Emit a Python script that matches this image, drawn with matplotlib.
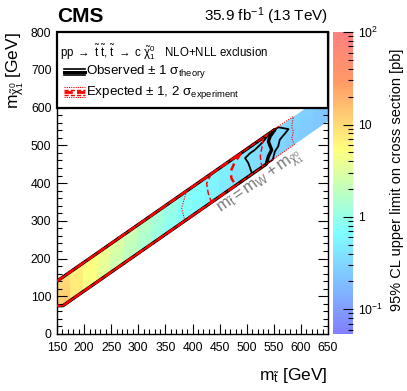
import numpy as np
import matplotlib
matplotlib.use('Agg')
import matplotlib.pyplot as plt
from matplotlib.colors import LinearSegmentedColormap, LogNorm
from matplotlib.patches import Polygon, Rectangle
from matplotlib.lines import Line2D
from matplotlib.ticker import MultipleLocator, FixedLocator, FixedFormatter

plt.rcParams['font.family'] = ['Liberation Sans', 'DejaVu Sans']
plt.rcParams['mathtext.fontset'] = 'custom'
plt.rcParams['mathtext.rm'] = 'Liberation Sans'
plt.rcParams['mathtext.it'] = 'Liberation Sans'
plt.rcParams['mathtext.bf'] = 'Liberation Sans:bold'

# grid of the limit map: stop mass columns (left edges) and dm rows
mstop_edges = [150, 175, 200, 225, 250, 275, 300, 325, 350, 375, 400,
               425, 450, 475, 500, 525, 550, 575, 600, 625, 650]
dm_edges = [10, 19.5, 29, 38.5, 48, 57.5, 67, 76.5, 86]

# 95% CL upper limit [pb], rows = dm (small -> large), cols = mstop
xsec_limit = [
    [9.0, 6.8, 5.2, 4.0, 3.1, 2.4, 1.80, 1.40, 1.10, 0.90, 0.74, 0.62, 0.53, 0.46, 0.41, 0.37, 0.33, 0.30, 0.28, 0.26],
    [9.5, 7.0, 5.3, 4.0, 3.0, 2.3, 1.75, 1.35, 1.05, 0.86, 0.71, 0.60, 0.51, 0.45, 0.40, 0.36, 0.33, 0.30, 0.27, 0.25],
    [10., 7.2, 5.2, 3.9, 2.9, 2.2, 1.70, 1.30, 1.02, 0.83, 0.69, 0.58, 0.50, 0.44, 0.39, 0.35, 0.32, 0.29, 0.27, 0.25],
    [10.5, 7.3, 5.1, 3.8, 2.8, 2.1, 1.62, 1.25, 0.98, 0.80, 0.67, 0.56, 0.49, 0.43, 0.38, 0.34, 0.31, 0.29, 0.26, 0.24],
    [11., 7.4, 5.0, 3.7, 2.7, 2.0, 1.55, 1.20, 0.95, 0.78, 0.65, 0.55, 0.48, 0.42, 0.37, 0.34, 0.31, 0.28, 0.26, 0.24],
    [11.5, 7.5, 5.0, 3.6, 2.6, 1.95, 1.50, 1.15, 0.92, 0.76, 0.63, 0.54, 0.47, 0.41, 0.37, 0.33, 0.30, 0.28, 0.25, 0.23],
    [12., 7.6, 4.9, 3.5, 2.5, 1.90, 1.45, 1.12, 0.90, 0.74, 0.62, 0.53, 0.46, 0.41, 0.36, 0.33, 0.30, 0.27, 0.25, 0.23],
    [12.5, 7.8, 4.9, 3.4, 2.5, 1.85, 1.40, 1.10, 0.88, 0.72, 0.61, 0.52, 0.45, 0.40, 0.36, 0.32, 0.29, 0.27, 0.25, 0.23],
]

# exclusion contours (mstop, mlsp)
obs_x = [150, 552, 543, 540, 546, 540, 536, 161, 150]
obs_y = [140, 542, 523, 510, 488, 471, 450, 75, 75]
obs_up_x = [150, 558, 577, 571, 561, 558, 552, 548, 161, 150]
obs_up_y = [140, 548, 543, 532, 515, 497, 484, 462, 75, 75]
obs_dn_x = [150, 545, 528, 515, 506, 497, 503, 510, 161, 150]
obs_dn_y = [140, 535, 506, 488, 479, 466, 453, 424, 75, 75]

exp_x = [150, 490, 478, 470, 472, 480, 161, 150]
exp_y = [140, 480, 455, 430, 412, 394, 75, 75]
exp_m1_x = [150, 435, 426, 429, 435, 161, 150]
exp_m1_y = [140, 425, 399, 373, 349, 75, 75]
exp_p1_x = [150, 538, 530, 528, 525, 527, 530, 161, 150]
exp_p1_y = [140, 528, 515, 495, 470, 450, 444, 75, 75]
exp_m2_x = [150, 389, 380, 386, 161, 150]
exp_m2_y = [140, 379, 333, 300, 75, 75]
exp_p2_x = [150, 565, 586, 583, 586, 583, 588, 161, 150]
exp_p2_y = [140, 557, 576, 549, 536, 518, 502, 75, 75]

# CMS SUSY palette
stops = [0.00, 0.34, 0.61, 0.84, 1.00]
red = [0.50, 0.50, 1.00, 1.00, 1.00]
green = [0.50, 1.00, 1.00, 0.60, 0.50]
blue = [1.00, 1.00, 0.50, 0.40, 0.50]
cmap = LinearSegmentedColormap.from_list(
    'susy', [(s, (r, g, b)) for s, r, g, b in zip(stops, red, green, blue)], N=255)

fig = plt.figure(figsize=(4.07, 3.91), dpi=100)
ax = fig.add_axes([0.140, 0.1458, 0.666, 0.772])

X = np.tile(np.array(mstop_edges, float), (len(dm_edges), 1))
Y = X - np.array(dm_edges, float)[:, None]
mesh = ax.pcolormesh(X, Y, np.array(xsec_limit), cmap=cmap,
                     norm=LogNorm(vmin=0.054, vmax=100), shading='flat',
                     edgecolors='face', linewidth=0.3, zorder=1)
band = Polygon([(150, 140), (650, 640), (650, 564), (161, 75), (150, 75)],
               closed=True, transform=ax.transData, fill=False)
mesh.set_clip_path(band)

# observed (black) and expected (red)
ax.plot(obs_up_x, obs_up_y, color='black', lw=1.3, zorder=3)
ax.plot(obs_dn_x, obs_dn_y, color='black', lw=1.3, zorder=3)
ax.plot(obs_x, obs_y, color='black', lw=2.4, zorder=3)
ax.plot(exp_m2_x, exp_m2_y, color='red', lw=0.8, ls=(0.5, (1, 1.2)), zorder=4)
ax.plot(exp_p2_x, exp_p2_y, color='red', lw=0.8, ls=(1.5, (1, 1.2)), zorder=4)
ax.plot(exp_m1_x, exp_m1_y, color='red', lw=1.0, ls=(2, (4, 2)), zorder=4)
ax.plot(exp_p1_x, exp_p1_y, color='red', lw=1.0, ls=(4, (4, 2)), zorder=4)
ax.plot(exp_x, exp_y, color='red', lw=1.8, ls=(0, (3, 2)), zorder=4)

ax.set_xlim(150, 650)
ax.set_ylim(0, 800)

# kinematic line label
p1 = ax.transData.transform((400, 314))
p2 = ax.transData.transform((600, 514))
ang = np.degrees(np.arctan2(p2[1] - p1[1], p2[0] - p1[0]))
ax.text(525, 400, r'$\mathrm{m_{\tilde{t}} = m_{W} + m_{\tilde{\chi}^{0}_{1}}}$',
        color='#7a7a7a', fontsize=12, rotation=ang, ha='center', va='center',
        rotation_mode='anchor', zorder=5)

# legend box
ax.add_patch(Rectangle((150, 600), 500, 200, facecolor='white',
                       edgecolor='black', lw=1.6, zorder=6, clip_on=False))
ax.text(0.011, 0.934,
        r'pp $\rightarrow$ $\tilde{\mathrm{t}}\;\tilde{\mathrm{t}}$, $\tilde{\mathrm{t}}$ $\rightarrow$ c $\tilde{\chi}^{0}_{1}$   NLO+NLL exclusion',
        transform=ax.transAxes, fontsize=8.3, ha='left', va='center', zorder=7)
ax.text(0.108, 0.868, r'Observed $\pm$ 1 $\sigma_{\mathrm{theory}}$',
        transform=ax.transAxes, fontsize=9.6, ha='left', va='center', zorder=7)
ax.text(0.108, 0.801, r'Expected $\pm$ 1, 2 $\sigma_{\mathrm{experiment}}$',
        transform=ax.transAxes, fontsize=9.6, ha='left', va='center', zorder=7)
lx = [0.026, 0.103]
for dy, lw in [(0.009, 1.2), (0.0, 2.2), (-0.009, 1.2)]:
    ax.add_line(Line2D(lx, [0.868 + dy] * 2, color='black', lw=lw,
                       transform=ax.transAxes, zorder=7))
for dy, lw, ls in [(0.016, 0.8, (0, (1, 1))), (0.008, 1.0, (0, (3, 1.5))),
                   (0.0, 2.0, (0, (3, 1.5))), (-0.008, 1.0, (0, (3, 1.5))),
                   (-0.016, 0.8, (0, (1, 1)))]:
    ax.add_line(Line2D(lx, [0.801 + dy] * 2, color='red', lw=lw, ls=ls,
                       transform=ax.transAxes, zorder=7))

# axes styling
ax.xaxis.set_major_locator(MultipleLocator(50))
ax.xaxis.set_minor_locator(MultipleLocator(10))
ax.yaxis.set_major_locator(MultipleLocator(100))
ax.yaxis.set_minor_locator(MultipleLocator(20))
ax.tick_params(which='both', direction='in', top=True, right=True,
               labelsize=8.8)
ax.tick_params(axis='x', pad=6)
ax.tick_params(axis='y', pad=4)
ax.tick_params(which='major', length=7, width=0.8)
ax.tick_params(which='minor', length=3.5, width=0.8)
for s in ax.spines.values():
    s.set_linewidth(1.0)

fig.text(328 / 407, 1 - 366 / 391, r'm$_{\tilde{\mathrm{t}}}$ [GeV]', fontsize=12.5,
         ha='right', va='top')
fig.text(0.037, 0.918, r'm$_{\tilde{\chi}^{0}_{1}}$ [GeV]', fontsize=12.5,
         rotation=90, ha='center', va='top')

fig.text(57 / 407, 1 - 16 / 391, 'CMS', fontsize=15, fontweight='bold',
         ha='left', va='center')
fig.text(328 / 407, 1 - 16 / 391, r'35.9 fb$^{-1}$ (13 TeV)', fontsize=11,
         ha='right', va='center')

# colour scale
cax = fig.add_axes([0.818, 0.1458, 0.049, 0.772])
cb = fig.colorbar(mesh, cax=cax)
cb.outline.set_visible(False)
cax.yaxis.set_major_locator(FixedLocator([0.1, 1, 10, 100]))
cax.yaxis.set_major_formatter(FixedFormatter([r'$10^{-1}$', '1', '10', r'$10^{2}$']))
minors = [m * d for d in (0.01, 0.1, 1, 10) for m in range(2, 10)]
cax.yaxis.set_minor_locator(FixedLocator([v for v in minors if 0.054 <= v <= 100]))
cax.yaxis.set_minor_formatter(FixedFormatter([]))
cax.tick_params(which='both', direction='in', right=True, left=False,
                labelsize=8.8, pad=4)
cax.tick_params(which='major', length=7, width=0.8)
cax.tick_params(which='minor', length=3.5, width=0.8)
fig.text(397 / 407, 0.54, '95% CL upper limit on cross section [pb]',
         fontsize=10.5, rotation=90, ha='center', va='center')

fig.savefig('out.png', dpi=100)
